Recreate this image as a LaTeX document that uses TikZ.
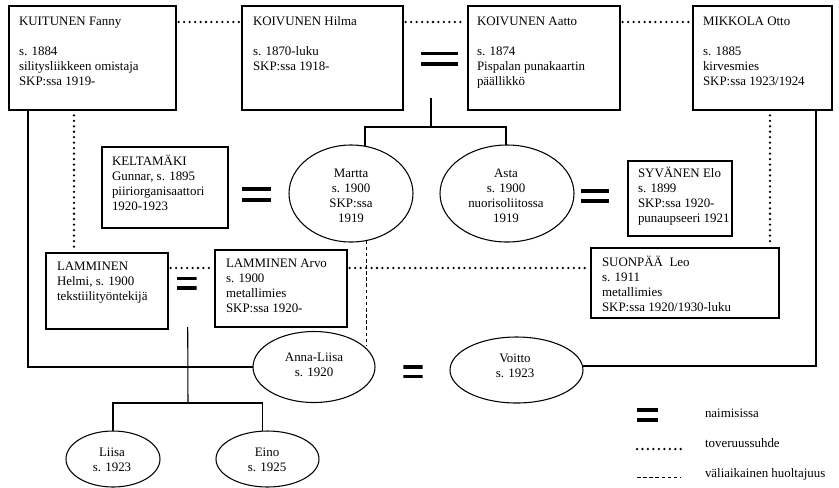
\documentclass[tikz,border=0pt]{standalone}
\usepackage{fontspec}
\setmainfont{Liberation Serif}
\usetikzlibrary{shapes.geometric,fit,calc}
\begin{document}
\begin{tikzpicture}[x=0.75pt,y=-0.75pt,
  box/.style={draw, line width=0.8pt, rectangle, inner sep=0pt, outer sep=0pt},
  pers/.style={draw, line width=0.8pt, ellipse, inner sep=0pt, outer sep=0pt},
  txt/.style={inner sep=0pt, outer sep=0pt, align=left, anchor=base west, font=\fontsize{9.7}{11.25}\selectfont},
  ctxt/.style={txt, align=center, anchor=base},
  link/.style={line width=0.8pt},
  dotline/.style={line width=1.9pt, line cap=round, dash pattern=on 0pt off 4.1pt},
  dashline/.style={line width=0.7pt, dash pattern=on 2.7pt off 1.9pt},
  eqsign/.style={rectangle, inner sep=0pt, outer sep=0pt, path picture={
    \fill (path picture bounding box.north west) rectangle ([yshift=-2.7pt]path picture bounding box.north east);
    \fill ([yshift=2.7pt]path picture bounding box.south west) rectangle (path picture bounding box.south east);}}
]
\path[fill=white,use as bounding box] (0,0) rectangle (839,487);

% boxes
\node[box, fit={(9,6) (176,110)}] (kuitunen) {};
\node[box, fit={(242,6) (403,110)}] (hilma) {};
\node[box, fit={(468,6) (620,110)}] (aatto) {};
\node[box, fit={(693,6) (832,110)}] (mikkola) {};
\node[box, fit={(102,147) (228,228)}] (kelta) {};
\node[box, fit={(628,161) (732,236)}] (syvanen) {};
\node[box, fit={(46,253) (168,329)}] (helmi) {};
\node[box, fit={(215,250) (347,327)}] (arvo) {};
\node[box, fit={(591,248) (779,318)}] (suonpaa) {};

% box texts (anchored at the baseline of the last line)
\node[txt] (kuitunen-t) at (19,85) {KUITUNEN Fanny\\[11.25pt]s. 1884\\silitysliikkeen omistaja\\SKP:ssa 1919-};
\node[txt] (hilma-t) at (253,70) {KOIVUNEN Hilma\\[11.25pt]s. 1870-luku\\SKP:ssa 1918-};
\node[txt] (aatto-t) at (477,85) {KOIVUNEN Aatto\\[11.25pt]s. 1874\\Pispalan punakaartin\\päällikkö};
\node[txt] (mikkola-t) at (703,85) {MIKKOLA Otto\\[11.25pt]s. 1885\\kirvesmies\\SKP:ssa 1923/1924};
\node[txt] (kelta-t) at (112,210) {KELTAMÄKI\\Gunnar, s. 1895\\piiriorganisaattori\\1920-1923};
\node[txt] (syvanen-t) at (638,222) {SYVÄNEN Elo\\s. 1899\\SKP:ssa 1920-\\punaupseeri 1921};
\node[txt] (helmi-t) at (57,300) {LAMMINEN\\Helmi, s. 1900\\tekstiilityöntekijä};
\node[txt] (arvo-t) at (226,312.5) {LAMMINEN Arvo\\s. 1900\\metallimies\\SKP:ssa 1920-};
\node[txt] (suonpaa-t) at (602,311) {SUONPÄÄ\ \ Leo\\s. 1911\\metallimies\\SKP:ssa 1920/1930-luku};

% ellipses
\node[pers, minimum width=93pt, minimum height=72.75pt] (martta) at (351,193.5) {};
\node[pers, minimum width=100.5pt, minimum height=72.75pt] (asta) at (507,193.5) {};
\node[pers, minimum width=91.5pt, minimum height=53.25pt] (annaliisa) at (314,367) {};
\node[pers, minimum width=99.75pt, minimum height=49.5pt] (voitto) at (516.5,370) {};
\node[pers, minimum width=70.5pt, minimum height=42pt] (liisa) at (113,459) {};
\node[pers, minimum width=77.25pt, minimum height=42pt] (eino) at (267.5,459) {};

\node[ctxt] (martta-t) at (351,222.6) {Martta\\s. 1900\\SKP:ssa\\1919};
\node[ctxt] (asta-t) at (506,222.6) {Asta\\s. 1900\\nuorisoliitossa\\1919};
\node[ctxt] (annaliisa-t) at (314,376.5) {Anna-Liisa\\s. 1920};
\node[ctxt] (voitto-t) at (515,377) {Voitto\\s. 1923};
\node[ctxt] (liisa-t) at (112,471.7) {Liisa\\s. 1923};
\node[ctxt] (eino-t) at (267,471.7) {Eino\\s. 1925};

% equal signs
\node[eqsign, minimum width=27.75pt, minimum height=10.5pt] (eq1) at (439.5,58.5) {};
\node[eqsign, minimum width=21.75pt, minimum height=10.9pt] (eq2) at (256.5,194.7) {};
\node[eqsign, minimum width=21pt, minimum height=10.5pt] (eq3) at (595,196) {};
\node[eqsign, minimum width=15pt, minimum height=10.1pt] (eq4) at (186.7,283.3) {};
\node[eqsign, minimum width=14.6pt, minimum height=10.1pt] (eq5) at (413,371.7) {};

% friendship (dotted)
\draw[dotline, shorten <=2pt, shorten >=2pt] ($(kuitunen.north east)+(0,16)$) -- ($(hilma.north west)+(0,16)$);
\draw[dotline, shorten <=2pt, shorten >=2pt] ($(hilma.north east)+(0,16)$) -- ($(aatto.north west)+(0,16)$);
\draw[dotline, shorten <=2pt, shorten >=2pt] ($(aatto.north east)+(0,16)$) -- ($(mikkola.north west)+(0,16)$);
\draw[dotline, shorten <=4pt, shorten >=4pt] ($(kuitunen.south west)+(65,0)$) -- ($(helmi.north west)+(28,0)$);
\draw[dotline, shorten <=4pt, shorten >=3pt] ($(mikkola.south west)+(77,0)$) -- ($(suonpaa.north west)+(179,0)$);
\draw[dotline, shorten <=2pt, shorten >=2pt] ($(helmi.north east)+(0,15)$) -- ($(arvo.north west)+(0,18)$);
\draw[dotline, shorten <=2pt, shorten >=2pt] ($(arvo.north east)+(0,18)$) -- ($(suonpaa.north west)+(0,20)$);

% family lines
\coordinate (j1) at (431,127);
\draw[link] ($(eq1.south)+(-8.5,32)$) -- (j1);
\draw[link] ($(martta.north)+(14,1)$) |- (j1) -| ($(asta.north)+(-1,0)$);
\coordinate (j2) at (188,403);
\draw[link] ($(eq4.south)+(1,37)$) -- (j2);
\draw[link] (liisa.north) |- (j2) -| ($(eino.north)+(-5,0)$);
\draw[link] ($(kuitunen.south west)+(19,0)$) |- (annaliisa.west);
\draw[link] ($(mikkola.south east)+(-16,0)$) |- ($(voitto.east)+(0,-4)$);

% temporary custody (dashed)
\draw[dashline] ($(martta.center)+(15,47)$) -- ($(annaliisa.center)+(52,-21)$);

% legend
\node[eqsign, minimum width=15.4pt, minimum height=10.5pt] (leq) at (647.5,415) {};
\node[txt] (l1) at (705,417) {naimisissa};
\coordinate (ld1) at (637,449);
\coordinate (ld2) at (681,449);
\draw[dotline] (ld1) -- (ld2);
\node[txt] (l2) at (705,447.5) {toveruussuhde};
\coordinate (lh1) at (637,477.5);
\coordinate (lh2) at (681,477.5);
\draw[dashline] (lh1) -- (lh2);
\node[txt] (l3) at (705,477) {väliaikainen huoltajuus};
\end{tikzpicture}
\end{document}
